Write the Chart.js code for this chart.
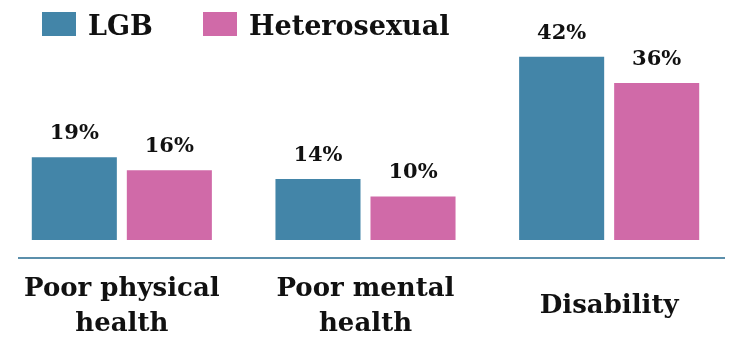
<!DOCTYPE html>
<html>
<head>
<meta charset="utf-8">
<script src="https://cdn.jsdelivr.net/npm/chart.js@4"></script>
<style>
    html, body { margin: 0; padding: 0; background: #fff; }
    #wrap { width: 731px; height: 339px; }
</style>
</head>
<body>
<div id="wrap"><canvas id="healthChart"></canvas></div>
<script>
const categories = [["Poor physical", "health"], ["Poor mental", "health"], "Disability"];
const lgbValues = [19, 14, 42];
const heteroValues = [16, 10, 36];
const seriesNames = ["LGB", "Heterosexual"];

const TEAL = "#4385a8";
const PINK = "#d06aa8";
const SERIF = "'DejaVu Serif', serif";

// percentage above every bar
const valueLabels = {
    id: "valueLabels",
    afterDatasetsDraw(chart) {
        const ctx = chart.ctx;
        ctx.save();
        ctx.font = "bold 21px " + SERIF;
        ctx.fillStyle = "#111";
        ctx.textAlign = "center";
        ctx.textBaseline = "alphabetic";
        chart.data.datasets.forEach((ds, i) => {
            chart.getDatasetMeta(i).data.forEach((bar, j) => {
                ctx.fillText(ds.data[j] + "%", bar.x, bar.y - 18);
            });
        });
        ctx.restore();
    }
};

// boxes + names in the top left corner, and the baseline rule
const topLegend = {
    id: "topLegend",
    afterDraw(chart) {
        const ctx = chart.ctx;
        const starts = [42, 203];
        ctx.save();
        ctx.font = "bold 27px " + SERIF;
        ctx.textBaseline = "alphabetic";
        chart.data.datasets.forEach((ds, i) => {
            const x = starts[i];
            ctx.fillStyle = ds.backgroundColor;
            ctx.fillRect(x, 12, 34, 24);
            ctx.fillStyle = "#111";
            ctx.fillText(ds.label, x + 46, 35);
        });

        const y = chart.chartArea.bottom;
        ctx.strokeStyle = "#5b8fab";
        ctx.lineWidth = 2;
        ctx.beginPath();
        ctx.moveTo(18, y);
        ctx.lineTo(chart.width - 6, y);
        ctx.stroke();
        ctx.restore();
    }
};

new Chart(document.getElementById("healthChart"), {
    type: "bar",
    data: {
        labels: categories,
        datasets: [
            { label: seriesNames[0], data: lgbValues, backgroundColor: TEAL },
            { label: seriesNames[1], data: heteroValues, backgroundColor: PINK }
        ]
    },
    options: {
        responsive: true,
        maintainAspectRatio: false,
        animation: false,
        events: [],
        layout: { padding: 0 },
        datasets: {
            bar: { categoryPercentage: 0.78, barPercentage: 0.895 }
        },
        plugins: {
            legend: { display: false },
            tooltip: { enabled: false }
        },
        scales: {
            x: {
                grid: { display: false },
                border: { display: false },
                afterFit(scale) { scale.height = 81; },
                ticks: {
                    color: "#111",
                    font: { family: SERIF, size: 26, weight: "bold", lineHeight: 1.35 },
                    padding: 23,
                    maxRotation: 0,
                    autoSkip: false,
                    crossAlign: "center"
                }
            },
            y: {
                display: false,
                min: -4.1,
                max: 55
            }
        }
    },
    plugins: [valueLabels, topLegend]
});
</script>
</body>
</html>
